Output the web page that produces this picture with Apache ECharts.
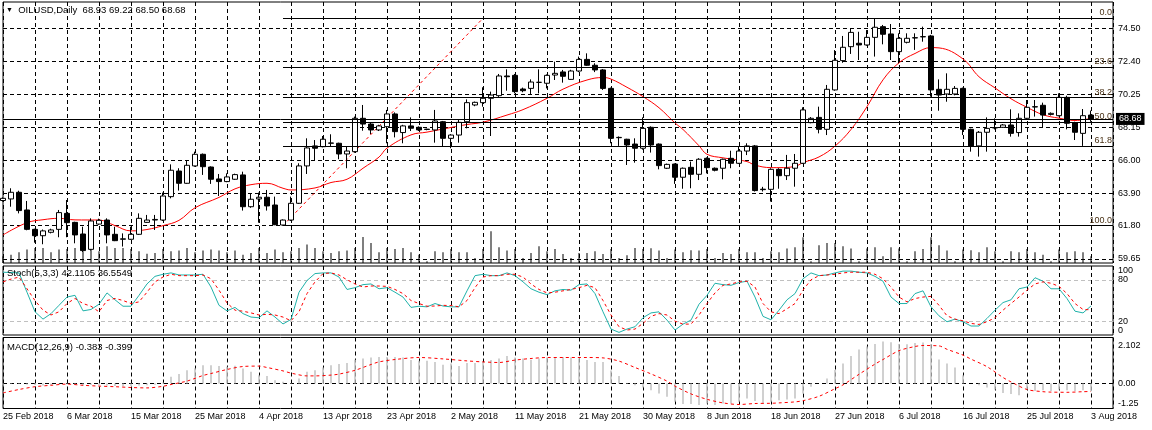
<!DOCTYPE html>
<html><head><meta charset="utf-8">
<script src="https://cdn.jsdelivr.net/npm/echarts@6/dist/echarts.min.js"></script>
<style>html,body{margin:0;padding:0;background:#fff;}#c{width:1152px;height:430px;}</style>
</head><body><div id="c"></div>
<script>
const FONT = "'Liberation Sans', Arial, sans-serif";

// Daily candles, one per trading day from 25 Feb 2018: [open, high, low, close]
const candles = [
[63.42,63.62,63.35,63.56],[63.52,64.21,63.02,63.95],[63.95,64.05,62.59,62.77],[62.81,63.39,61.50,61.56],
[61.56,61.60,60.70,61.15],[61.15,61.55,60.60,61.46],[61.37,61.60,61.30,61.52],[61.56,62.81,61.05,62.64],
[62.59,63.45,61.05,61.99],[62.01,62.05,60.66,61.20],[61.26,61.73,60.10,60.19],[60.27,62.27,60.20,62.10],
[61.90,62.25,61.85,62.14],[62.16,62.27,60.66,61.20],[61.24,61.73,60.80,60.83],[60.92,61.30,60.45,60.95],
[60.92,61.73,60.88,61.24],[61.24,62.59,61.20,62.27],[62.01,62.49,61.98,62.16],[62.16,62.49,61.52,62.20],
[62.16,63.93,62.10,63.71],[63.67,65.75,63.56,65.37],[65.32,65.50,64.06,64.53],[64.53,66.03,64.50,65.69],
[65.65,66.57,65.60,66.40],[66.40,66.45,65.07,65.60],[65.58,65.62,64.49,64.79],[64.81,65.13,63.71,64.64],
[64.64,65.17,64.60,64.94],[64.79,65.15,64.75,65.09],[65.07,65.28,62.77,63.02],[63.02,63.88,62.95,63.50],
[63.52,63.93,61.99,63.63],[63.63,64.10,62.77,63.07],[63.13,63.67,61.83,61.86],[61.84,62.20,61.80,62.16],
[62.16,63.67,62.10,63.24],[63.24,65.82,63.20,65.65],[65.65,67.43,65.13,66.81],[66.94,67.32,65.99,66.79],
[66.89,67.58,66.85,67.37],[67.11,67.69,66.90,67.13],[67.11,67.15,66.08,66.42],[66.42,66.89,65.50,66.61],
[66.57,68.83,66.50,68.72],[68.72,69.58,67.92,68.35],[68.35,68.45,67.70,67.97],[67.97,68.30,67.90,68.23],
[68.18,69.26,67.11,69.00],[69.00,69.10,67.49,67.86],[67.80,68.30,67.11,68.23],[68.23,68.78,67.90,68.08],
[68.14,68.20,67.90,67.97],[68.02,68.05,67.95,68.00],[67.97,69.26,67.15,68.55],[68.50,68.55,66.89,67.43],
[67.43,67.70,66.79,67.64],[67.64,68.61,67.15,68.46],[68.50,69.94,68.07,69.73],[69.58,69.80,69.50,69.75],
[69.73,70.72,69.47,70.01],[70.01,70.44,67.58,70.22],[70.18,71.58,70.10,71.45],[71.45,71.88,70.50,71.40],
[71.49,71.58,70.33,70.44],[70.61,70.70,70.40,70.50],[70.65,71.23,70.29,71.06],[71.04,71.88,70.33,71.04],
[70.98,71.55,70.65,71.49],[71.51,72.37,71.19,71.62],[71.71,71.84,71.02,71.43],[71.23,71.85,71.20,71.77],
[71.77,72.70,71.70,72.52],[72.52,72.91,72.10,72.14],[72.14,72.27,71.70,71.84],[71.84,71.90,70.55,70.65],
[70.65,70.70,67.11,67.43],[67.47,67.55,66.94,67.49],[67.37,67.40,65.71,67.00],[67.06,67.43,65.86,66.79],
[66.79,68.78,66.70,68.07],[68.14,68.20,66.51,67.00],[67.06,67.10,65.43,65.67],[65.50,65.80,65.45,65.75],
[65.77,65.80,64.49,64.92],[64.92,65.55,64.18,65.50],[65.56,65.93,64.21,65.11],[65.11,66.15,64.74,66.08],
[66.14,66.20,65.17,65.54],[65.50,65.55,65.30,65.37],[65.50,66.12,64.79,66.08],[66.14,66.63,65.50,65.82],
[65.82,66.89,65.78,66.61],[66.61,67.11,66.35,66.94],[66.94,67.00,64.00,64.06],[64.15,64.30,64.00,64.12],
[64.14,65.50,63.35,65.43],[65.43,65.50,64.18,65.02],[65.02,66.36,64.74,65.50],[65.50,66.42,64.31,65.82],
[65.82,69.43,65.78,69.26],[68.44,68.80,68.40,68.72],[68.78,69.47,67.75,68.01],[68.01,70.87,67.64,70.59],
[70.55,73.12,70.50,72.46],[72.44,74.03,72.30,73.30],[73.34,74.52,72.87,74.26],[73.56,74.30,72.48,73.45],
[73.45,74.41,73.40,73.94],[73.94,75.17,72.70,74.59],[74.63,74.74,73.49,74.14],[74.16,74.80,72.48,73.02],
[73.02,74.20,72.27,73.88],[73.62,74.20,73.55,73.88],[73.90,74.20,73.13,73.92],[73.97,74.63,73.66,73.99],
[74.03,74.10,70.12,70.55],[70.59,71.23,69.21,70.22],[70.29,71.62,69.79,70.59],[70.29,70.80,70.20,70.65],
[70.65,70.70,67.64,68.01],[68.01,68.05,66.57,66.94],[66.94,67.90,66.25,67.82],[67.82,68.78,66.57,68.07],
[68.10,68.72,68.00,68.12],[68.14,68.35,68.10,68.29],[68.29,69.30,67.54,67.75],[67.80,69.04,67.54,68.72],
[68.72,69.90,68.65,69.43],[69.45,69.90,68.83,69.47],[69.56,69.73,68.14,68.93],[68.97,69.10,68.90,69.04],
[68.89,70.33,68.85,70.07],[70.07,70.18,68.01,68.40],[68.44,68.50,67.32,67.82],[67.75,69.32,66.94,68.89],
[68.93,69.22,68.50,68.68]
];

// tick volume per bar
const volumes = [
2000,2500,3200,4000,4500,4500,3200,4000,4200,4500,3500,4200,3500,5000,4500,4500,4200,3500,2800,3000,
4200,3500,3700,4500,3200,3700,4000,3700,3200,3700,2500,3000,4500,3000,4000,3200,3500,4500,5500,4500,
3500,3000,3500,3700,4500,7800,6000,3200,4500,4200,4500,3200,2500,500,3500,3200,4200,3200,3200,1500,
4200,9500,4700,3700,4200,1500,3000,5000,3500,4200,2700,1500,3000,3000,3500,2700,4200,1500,2300,4500,
4200,4400,3700,1500,4000,3200,3800,3700,4200,1500,3000,2700,4200,3200,3200,1500,3500,3200,4300,4700,
7700,500,5300,6000,6000,5000,4300,500,4300,4700,2000,4700,4300,500,3500,4200,7700,5300,3700,500,
4000,3800,3200,4700,3500,500,3500,3200,4200,3200,2500,500,4000,3200,3500,3200,2000
];

// moving average: [bar index, value]
const maPoints = [
[0,61.20],[3,61.99],[5,62.18],[7,62.27],[9,62.17],[12,62.16],[14,61.80],[16,61.46],[18,61.55],[20,61.80],
[22,62.14],[24,62.95],[27,63.62],[29,64.17],[31,64.44],[33,64.53],[35,64.21],[36,64.10],[39,64.23],[41,64.58],
[43,64.79],[45,65.50],[47,66.22],[48,66.80],[51,67.65],[53,67.83],[56,68.13],[58,68.32],[60,68.47],[63,68.93],
[65,69.28],[68,70.01],[70,70.60],[73,71.19],[75,71.35],[76,71.25],[78,70.72],[80,70.12],[82,69.40],[84,68.42],
[85,68.00],[87,66.95],[88,66.40],[90,66.17],[91,66.10],[93,65.93],[94,65.70],[96,65.54],[97,65.54],[99,65.62],
[100,65.86],[102,66.23],[104,66.93],[106,68.00],[108,69.47],[110,71.20],[112,72.30],[114,72.90],[116,73.28],[117,73.26],
[120,72.55],[122,71.40],[124,70.68],[126,69.98],[128,69.43],[130,68.95],[132,68.73],[134,68.58],[136,68.72]
];

// Stochastic %K and %D per bar
const stochK = [
91,90.5,90,62,33.6,23,31,43,55,57.5,35,37,44.6,61,51,41.7,41.7,57.5,74,85,
88,90,87,87,87,88,69.5,43,35,40,31,26,25,35,26,16,22.5,62,79,89,
90,90,84,66,68.6,73,74,67,68.6,62,55,40,41.7,40.8,45.6,42,40.8,40.8,64,86,
88,86,86,90,86,77,67,62,58.5,64,66,65,73,74,60,33.6,8.6,3.8,8.6,12,
25,32,33.6,21.6,7.2,15.8,21.6,44.6,57.5,75,73,72,76,78,55,27,22,36,51,60,
81.5,90,86,87,90,92.6,92.6,91,90,85,78,55,45.6,45.6,60,64,40.8,27.8,19.2,23,
19.2,13,13,24,36,47,51,67,69.5,83,78,67,67,52.8,34.5,32,42.1105
];
const stochD = [
77,81,84,67,50,36,29,33.6,45.6,53,45.6,41.7,33.6,50,53,50,45.6,48,62,77,
84,88,86,86,86,87,81.5,65,46.5,36,34.5,32,29,30,29,26,20.6,33.6,60,77,
89,90,87,80,74,69.5,71,71,70.5,66,60,50,45.6,41.7,42,43,42.7,40.8,50,68.6,
84,86,86,88,88,84,74,66,61,62,64,66,68.6,72,68.6,50,29,12,7.2,8.6,
16.8,27,31,29,20,15.8,15.8,29,45.6,61,72,74,77,78,69.5,45.6,33.6,31,38,45.6,
65,80,86,87,88,90,91,91,91,88,81.5,69.5,55,48,52.8,55,56,43,27.8,23,
20.6,16.8,15.3,19.2,25,36,45.6,55,65,74,77,75,70.5,60,45.6,37,36.5549
];

// MACD histogram per bar and signal line
const macdMain = [
-0.05,-0.03,-0.02,-0.05,-0.08,-0.10,-0.08,-0.05,-0.04,-0.06,-0.10,-0.08,-0.09,-0.10,-0.12,-0.14,-0.13,-0.10,-0.09,-0.06,
0.05,0.34,0.47,0.66,0.76,0.91,0.91,0.87,0.84,0.89,0.75,0.59,0.41,0.37,0.16,0.09,0.03,0.25,0.59,0.66,
0.80,0.91,0.97,1.03,1.19,1.25,1.30,1.33,1.33,1.33,1.30,1.17,1.14,1.14,1.08,0.94,1.00,0.87,1.03,1.03,
1.08,1.17,1.25,1.37,1.30,1.25,1.19,1.25,1.30,1.30,1.33,1.30,1.25,1.17,1.08,1.08,0.65,0.37,0.02,-0.09,
-0.20,-0.34,-0.50,-0.66,-0.91,-1.03,-1.03,-1.08,-1.00,-1.08,-1.00,-1.00,-0.91,-0.75,-0.87,-1.00,-0.91,-0.84,-0.80,-0.75,
-0.50,-0.16,0.00,0.25,0.67,1.00,1.37,1.70,1.85,1.98,2.102,2.06,1.98,1.96,2.02,2.05,1.98,1.20,1.00,0.80,
0.41,0.00,-0.09,-0.20,-0.30,-0.47,-0.53,-0.59,-0.30,-0.37,-0.34,-0.37,-0.30,-0.34,-0.37,-0.34,-0.383
];
const macdSignal = [
[0,-0.47],[2,-0.30],[4,-0.16],[6,-0.09],[8,-0.03],[10,-0.09],[12,-0.13],[14,-0.16],[16,-0.20],[18,-0.22],
[20,-0.14],[21,-0.05],[23,0.12],[25,0.40],[26,0.50],[28,0.70],[30,0.85],[32,0.87],[33,0.80],[35,0.63],
[36,0.52],[38,0.38],[39,0.38],[41,0.42],[42,0.47],[44,0.66],[46,0.95],[47,1.08],[49,1.20],[52,1.30],
[55,1.23],[58,1.13],[60,1.08],[62,1.05],[64,1.17],[66,1.25],[68,1.30],[73,1.30],[75,1.28],[77,1.12],
[79,0.80],[81,0.48],[83,0.12],[84,-0.13],[86,-0.52],[88,-0.79],[90,-0.97],[92,-1.05],[94,-1.00],[96,-0.99],
[97,-0.97],[99,-0.92],[100,-0.86],[102,-0.64],[104,-0.26],[105,-0.07],[107,0.46],[109,0.97],[110,1.20],[112,1.64],
[114,1.85],[115,1.90],[117,1.88],[118,1.71],[120,1.42],[121,1.22],[123,0.84],[125,0.30],[126,0.08],[128,-0.30],
[130,-0.41],[131,-0.43],[133,-0.44],[135,-0.41],[136,-0.399]
];

// axes / levels
const priceTicks = [59.65, 61.80, 63.90, 66.00, 68.15, 70.25, 72.40, 74.50];
const stochLevels = [20, 80];
const stochTop = 100, stochBottom = 0;
const macdTop = 2.102, macdZero = 0, macdBottom = -1.25;
const fibLevels = [
  {name: '0.0', price: 75.17}, {name: '23.6', price: 72.01}, {name: '38.2', price: 70.05},
  {name: '50.0', price: 68.46}, {name: '61.8', price: 66.94}, {name: '100.0', price: 61.80}
];
const fibAnchor = [[35, 61.80], [60, 75.17]];
const lastPrice = 68.68;
const holidays = ['2018-03-30'];
const MONTHS = ['Jan','Feb','Mar','Apr','May','Jun','Jul','Aug','Sep','Oct','Nov','Dec'];

// trading-day calendar (Sunday–Friday sessions)
function buildDates(n) {
  const out = [];
  const d = new Date(Date.UTC(2018, 1, 25));
  while (out.length < n) {
    const iso = d.toISOString().slice(0, 10);
    if (d.getUTCDay() !== 6 && holidays.indexOf(iso) < 0) {
      out.push(d.getUTCDate() + ' ' + MONTHS[d.getUTCMonth()] + ' ' + d.getUTCFullYear());
    }
    d.setUTCDate(d.getUTCDate() + 1);
  }
  return out;
}
const dates = buildDates(candles.length);

const X_MAX = 138.75;
const last = candles[candles.length - 1];
const dash = [4, 3];
const txt = {fontFamily: FONT, fontSize: 9, color: '#000'};

function xAxis(gi, showLabel) {
  return {
    type: 'value', gridIndex: gi, min: 0, max: X_MAX, interval: 4,
    axisLine: {show: false}, axisTick: {show: false},
    splitLine: {show: true, lineStyle: {color: '#000', type: dash, width: 1}},
    axisLabel: showLabel ? {
      show: true, align: 'left', margin: 4, fontFamily: FONT, fontSize: 9, color: '#000',
      formatter: v => (Number.isInteger(v) && v % 8 === 0 && dates[v]) ? dates[v] : ''
    } : {show: false}
  };
}
// label-only axis (same scale as the panel), used to place edge labels
function labelAxis(gi, min, max, values, vAlign, fmt) {
  return {type: 'value', gridIndex: gi, position: 'right', min: min, max: max,
    axisLine: {show: false}, axisTick: {show: false}, splitLine: {show: false},
    axisLabel: Object.assign({customValues: values, margin: 5, verticalAlign: vAlign,
      showMinLabel: true, showMaxLabel: true, formatter: fmt}, txt)};
}

const option = {
  animation: false,
  backgroundColor: '#fff',
  title: [
    {text: '{a|▼}  OILUSD,Daily  ' + [last[0], last[1], last[2], last[3]].map(v => v.toFixed(2)).join(' '),
     left: 6, top: 5, padding: 0,
     textStyle: {fontFamily: FONT, fontSize: 9.5, fontWeight: 'normal', color: '#000', rich: {a: {fontSize: 7, color: '#000'}}}},
    {text: 'Stoch(5,3,3) ' + stochK[stochK.length - 1].toFixed(4) + ' ' + stochD[stochD.length - 1].toFixed(4),
     left: 7, top: 268, padding: 0, textStyle: {fontFamily: FONT, fontSize: 9.5, fontWeight: 'normal', color: '#000'}},
    {text: 'MACD(12,26,9) ' + macdMain[macdMain.length - 1].toFixed(3) + ' ' + macdSignal[macdSignal.length - 1][1].toFixed(3),
     left: 7, top: 342.5, padding: 0, textStyle: {fontFamily: FONT, fontSize: 9.5, fontWeight: 'normal', color: '#000'}}
  ],
  grid: [
    {left: 3, top: 2, width: 1110, height: 261, show: true, borderColor: '#000', borderWidth: 1},
    {left: 3, top: 266, width: 1110, height: 69, show: true, borderColor: '#000', borderWidth: 1},
    {left: 3, top: 337.5, width: 1110, height: 71, show: true, borderColor: '#000', borderWidth: 1}
  ],
  xAxis: [xAxis(0, false), xAxis(1, false), xAxis(2, true)],
  yAxis: [
    // 0: price
    {type: 'value', gridIndex: 0, position: 'right', min: 59.39, max: 76.22,
     axisLine: {show: false},
     axisTick: {show: true, length: 3, customValues: priceTicks, lineStyle: {color: '#000'}},
     axisLabel: Object.assign({customValues: priceTicks, margin: 5, formatter: v => v.toFixed(2)}, txt),
     splitLine: {show: true, lineStyle: {color: '#000', type: dash, width: 1}}},
    // 1: volume
    {type: 'value', gridIndex: 0, min: 0, max: 78000, show: false, splitLine: {show: false}},
    // 2: stochastic
    {type: 'value', gridIndex: 1, position: 'right', min: 0, max: 100,
     axisLine: {show: false},
     axisTick: {show: false, customValues: stochLevels},
     axisLabel: Object.assign({customValues: stochLevels, margin: 5, formatter: v => String(v)}, txt),
     splitLine: {show: true, lineStyle: {color: '#c0c0c0', type: dash, width: 1}}},
    // 3: MACD
    {type: 'value', gridIndex: 2, position: 'right', min: -1.25, max: 2.30,
     axisLine: {show: false},
     axisTick: {show: false, customValues: [macdZero]},
     axisLabel: Object.assign({customValues: [macdZero], margin: 5, formatter: v => v.toFixed(2)}, txt),
     splitLine: {show: true, lineStyle: {color: '#000', type: dash, width: 1}}},
    // 4-7: edge labels
    labelAxis(1, 0, 100, [stochTop], 'top', v => String(v)),
    labelAxis(1, 0, 100, [stochBottom], 'bottom', v => String(v)),
    labelAxis(2, -1.25, 2.30, [macdTop], 'top', v => v.toFixed(3)),
    labelAxis(2, -1.25, 2.30, [macdBottom], 'bottom', v => v.toFixed(2))
  ],
  series: [
    {type: 'bar', name: 'Volume', xAxisIndex: 0, yAxisIndex: 1, barWidth: 1, silent: true,
     data: volumes.map((v, i) => [i, v]), itemStyle: {color: '#000'}, z: 1},
    {type: 'line', name: 'MA', xAxisIndex: 0, yAxisIndex: 0, data: maPoints, smooth: 0.4,
     symbol: 'none', lineStyle: {color: '#ff0000', width: 1}, z: 3, silent: true},
    {type: 'line', name: 'Fibo', xAxisIndex: 0, yAxisIndex: 0, data: fibAnchor, symbol: 'none',
     lineStyle: {color: '#ff0000', width: 1, type: [3, 3]}, z: 3, silent: true,
     markLine: {silent: true, symbol: ['none', 'none'], animation: false,
       data: fibLevels.map(f => [
         {coord: [fibAnchor[0][0], f.price], lineStyle: {color: '#000', width: 1, type: 'solid'},
          label: {show: true, position: 'insideEndTop', formatter: f.name, distance: 1, padding: 0,
                  fontFamily: FONT, fontSize: 9, color: '#4a3216'}},
         {coord: [X_MAX, f.price]}
       ])}},
    {type: 'candlestick', name: 'OILUSD', xAxisIndex: 0, yAxisIndex: 0,
     data: candles.map((c, i) => [i, c[0], c[3], c[2], c[1]]),
     encode: {x: 0, y: [1, 2, 3, 4]}, barWidth: 5, z: 4,
     itemStyle: {color: '#fff', color0: '#000', borderColor: '#000', borderColor0: '#000', borderWidth: 1},
     markLine: {silent: true, symbol: ['none', 'none'], animation: false, z: 6,
       data: [[
         {coord: [0, lastPrice], lineStyle: {color: '#000', width: 1, type: 'solid'},
          label: {show: true, position: 'end', formatter: lastPrice.toFixed(2), distance: 3,
                  backgroundColor: '#000', color: '#fff', padding: [2, 3, 1, 3], fontFamily: FONT, fontSize: 9}},
         {coord: [X_MAX, lastPrice]}
       ]]}},
    {type: 'line', name: 'Stoch %K', xAxisIndex: 1, yAxisIndex: 2, data: stochK.map((v, i) => [i, v]),
     symbol: 'none', lineStyle: {color: '#20b2aa', width: 1}, silent: true},
    {type: 'line', name: 'Stoch %D', xAxisIndex: 1, yAxisIndex: 2, data: stochD.map((v, i) => [i, v]),
     symbol: 'none', lineStyle: {color: '#ff0000', width: 1, type: [3, 3]}, silent: true},
    {type: 'bar', name: 'MACD', xAxisIndex: 2, yAxisIndex: 3, barWidth: 1.5, silent: true,
     data: macdMain.map((v, i) => [i, v]), itemStyle: {color: '#c0c0c0'}},
    {type: 'line', name: 'Signal', xAxisIndex: 2, yAxisIndex: 3, data: macdSignal, smooth: 0.3,
     symbol: 'none', lineStyle: {color: '#ff0000', width: 1, type: [3, 3]}, silent: true}
  ]
};

const chart = echarts.init(document.getElementById('c'), null, {renderer: 'canvas'});
chart.setOption(option);
</script>
</body></html>
